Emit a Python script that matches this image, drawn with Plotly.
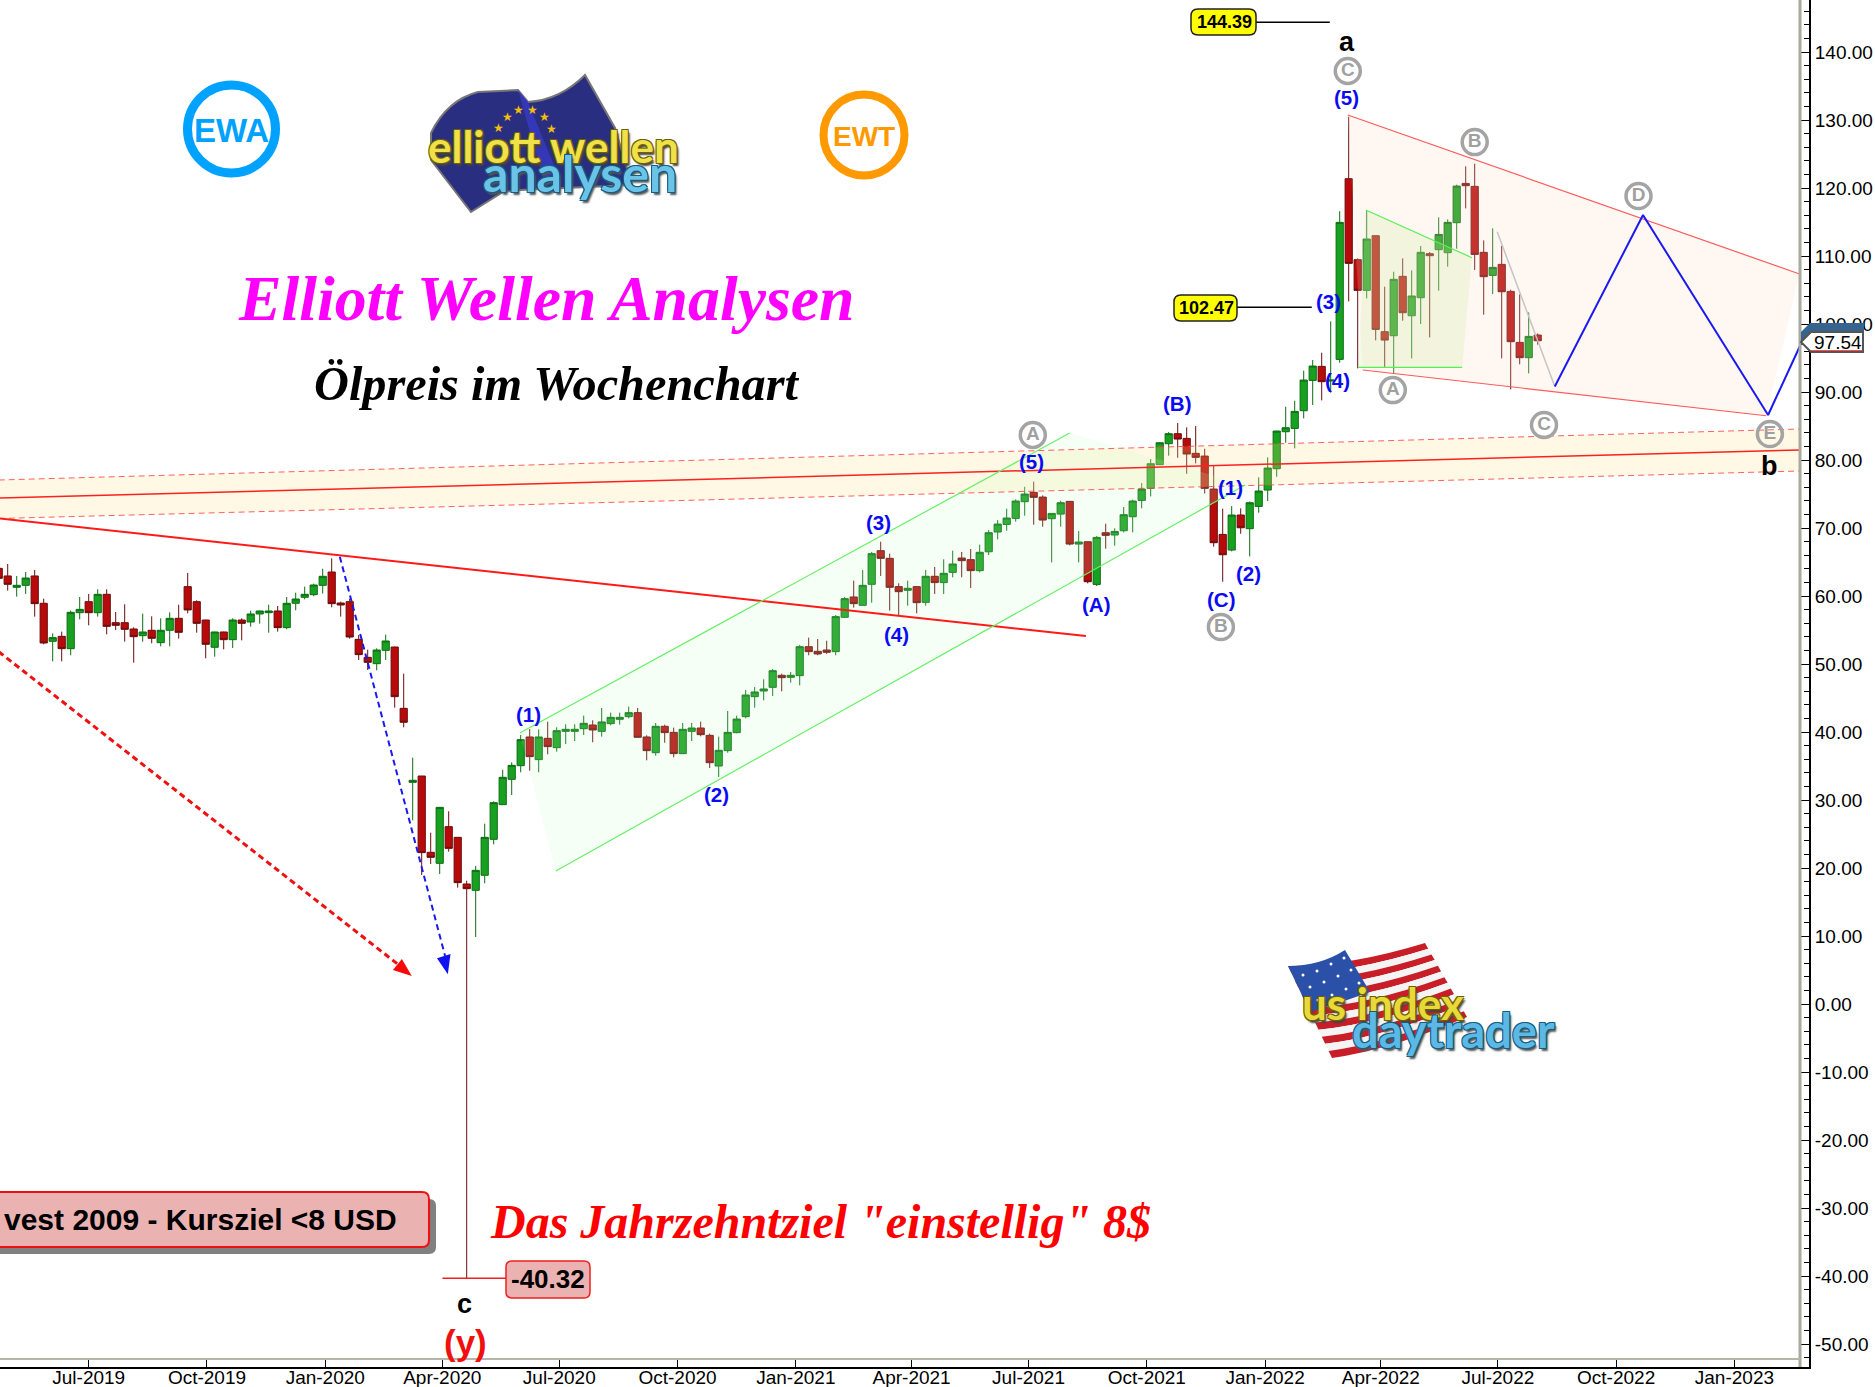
import re
import pandas as pd
import plotly.graph_objects as go

W, H = 1875, 1387
PW, PH = 1809, 1367

first_week = "2019-04-22"

opens = [64.07,62.95,61.28,61.57,62.95,58.93,53.34,54.07,52.26,57.55,59.17,57.55,60.25,56.08,56.08,55.15,54.17,54.96,53.14,54.96,
56.72,61.38,59.17,56.47,52.46,54.71,53.58,56.47,56.18,57.36,57.55,57.80,55.35,58.93,59.81,60.20,61.57,63.53,58.97,59.17,
53.63,50.98,50.05,52.01,52.50,43.48,32.60,33.53,22.31,20.69,26.08,24.51,17.65,16.72,18.93,24.22,29.32,33.04,35.05,39.27,
35.94,39.07,37.70,40.10,40.10,40.49,41.03,40.10,41.23,41.87,42.26,42.85,39.27,36.96,40.84,39.95,36.82,40.10,40.59,39.51,
35.00,37.26,39.91,42.26,45.20,46.03,46.57,48.34,48.04,48.29,52.55,51.87,52.06,51.82,56.87,59.86,58.63,61.72,66.67,65.54,
61.38,60.84,61.38,59.07,62.90,61.97,63.48,65.59,65.35,63.73,66.51,69.41,70.53,71.42,73.87,75.24,74.55,71.37,72.05,73.92,
67.64,67.98,61.71,69.31,68.97,69.60,71.66,74.06,75.83,79.31,82.40,83.87,83.18,80.98,80.58,75.73,69.06,66.76,71.91,69.90,
73.18,75.58,78.72,84.16,84.65,87.25,91.71,93.77,91.61,94.80,121.37,109.46,104.95,112.99,98.87,98.28,107.01,101.22,103.87,110.34,
110.93,110.49,114.90,120.68,120.24,110.54,107.15,108.77,104.80,97.30,95.05,98.38]
closes = [62.60,61.72,61.57,62.65,58.88,53.09,53.88,52.26,57.60,58.04,57.55,60.25,55.54,55.69,55.10,54.02,54.71,53.78,54.96,56.72,
54.66,57.95,55.98,52.90,54.71,53.58,56.47,55.98,57.36,57.80,57.80,55.35,58.93,59.56,60.25,61.62,62.90,58.88,58.68,53.97,
51.38,50.25,52.06,53.39,45.20,41.43,32.90,22.26,21.57,28.92,22.89,17.85,16.96,19.66,24.51,29.61,33.34,35.10,38.88,36.38,
39.27,37.85,40.20,40.40,40.40,41.28,40.30,41.48,42.16,42.16,42.85,39.22,37.26,40.84,39.91,36.82,40.40,40.59,39.61,35.49,
37.31,39.95,41.91,45.44,45.89,46.33,49.02,47.99,48.34,52.55,51.82,51.48,51.72,56.97,59.61,58.88,61.57,66.23,65.54,61.28,
60.64,61.13,59.02,62.90,61.97,63.34,64.71,65.20,63.73,66.43,69.31,70.58,71.47,73.97,75.00,74.51,71.17,72.15,73.72,67.64,
67.94,62.10,68.62,68.92,69.50,71.96,73.97,75.73,79.46,82.54,83.87,83.08,80.88,80.39,75.83,67.84,66.07,71.91,70.04,73.72,
75.44,78.82,84.26,84.75,87.15,91.76,93.82,91.52,91.76,114.95,108.92,104.95,112.50,99.21,97.64,106.57,101.66,104.12,110.54,110.05,
113.18,114.95,120.29,120.34,110.24,106.96,108.33,104.75,97.40,95.05,98.18,97.54]
highs = [64.20,64.71,62.95,63.53,63.83,59.61,54.51,54.76,57.85,59.86,60.30,60.99,60.99,57.65,58.78,55.40,57.41,57.01,56.72,57.60,
58.73,63.39,59.37,56.52,54.76,54.76,56.72,56.72,57.85,57.85,58.73,58.53,59.86,60.49,61.38,61.82,64.02,65.54,59.17,59.61,
54.27,52.11,52.31,54.32,52.55,48.58,36.23,33.53,25.20,28.92,28.34,24.51,18.14,20.30,26.52,29.81,34.46,35.54,39.56,40.44,
40.40,41.52,40.69,41.13,41.13,42.41,41.72,43.53,42.85,42.85,43.73,43.53,39.51,41.33,41.08,40.64,41.33,41.33,41.52,39.76,
39.32,43.09,42.41,46.18,46.62,47.75,49.27,48.58,48.83,52.80,53.88,53.68,53.43,57.21,59.86,62.26,63.83,66.48,67.99,66.23,
61.87,62.26,61.38,63.83,64.27,65.40,66.67,66.48,66.92,67.55,69.70,71.17,72.84,74.21,76.07,76.81,74.80,72.15,74.01,73.97,
69.55,68.03,68.82,70.63,69.95,73.08,74.16,76.61,80.14,82.59,84.11,85.44,84.80,85.00,81.66,79.26,72.84,73.23,72.89,73.92,
77.45,80.39,84.31,87.84,88.72,93.14,94.70,95.78,100.39,116.57,130.49,109.65,116.66,113.00,105.49,107.69,109.65,107.89,111.47,110.59,
115.68,115.39,120.49,123.18,123.58,112.30,114.07,111.47,105.05,104.36,101.71,98.62]
lows = [62.30,60.79,59.91,60.30,56.97,52.90,50.40,50.40,51.28,56.57,55.69,56.97,54.37,55.00,53.29,50.20,53.29,53.04,52.60,52.60,
53.73,57.46,54.61,50.84,51.08,52.16,52.36,53.48,55.49,55.94,54.61,54.76,55.10,57.90,59.51,59.96,60.35,58.34,56.97,53.73,
50.59,49.12,49.07,50.59,43.58,40.69,27.01,18.98,20.59,19.12,22.40,17.11,-40.32,9.86,17.75,23.48,29.27,30.74,34.07,34.32,
34.07,36.72,37.11,38.24,38.68,39.56,38.49,39.32,40.98,41.08,42.01,39.22,35.84,36.52,38.43,36.28,36.77,38.68,39.37,34.71,
33.39,36.96,39.81,42.01,43.58,44.66,45.30,45.98,47.26,46.87,51.28,51.28,51.48,51.28,56.77,58.29,58.58,59.02,62.95,57.85,
57.16,58.58,57.46,58.58,60.30,60.30,62.75,62.75,61.18,63.48,66.03,68.33,69.60,70.93,71.81,70.49,70.19,64.95,70.19,67.45,
64.95,61.86,61.47,66.96,67.40,69.36,69.36,72.89,74.65,79.31,80.63,80.34,77.98,79.50,75.09,67.25,62.10,66.56,69.16,65.83,
72.25,73.97,77.54,82.54,81.71,86.12,88.09,88.77,89.90,94.31,103.33,93.48,103.77,97.60,93.67,92.65,100.49,94.95,100.00,98.04,
104.90,108.43,111.08,117.01,107.94,101.37,104.41,94.95,90.39,94.07,92.74,96.96]

y_ticks = list(range(-50, 150, 10))
y_minor = [v for v in range(-52, 148, 2) if v % 10 != 0]
x_tick_dates = ["2019-07-01","2019-10-01","2020-01-01","2020-04-01","2020-07-01","2020-10-01","2021-01-01",
                "2021-04-01","2021-07-01","2021-10-01","2022-01-01","2022-04-01","2022-07-01","2022-10-01","2023-01-01"]
x_tick_text = ["Jul-2019","Oct-2019","Jan-2020","Apr-2020","Jul-2020","Oct-2020","Jan-2021",
               "Apr-2021","Jul-2021","Oct-2021","Jan-2022","Apr-2022","Jul-2022","Oct-2022","Jan-2023"]

# overlays: (week number from first_week, price)
trend_main = [(-2, 71.69), (120.8, 54.12)]
band_top = [(0, 77.06), (200.1, 84.56)]
band_mid = [(0, 74.41), (200.1, 81.47)]
band_bot = [(0, 71.40), (200.1, 78.38)]
chan_top = [(57.9, 39.85), (119.0, 83.97)]
chan_bot = [(61.9, 19.56), (138.5, 76.32)]
tri_top = [(149.9, 130.74), (200.1, 107.35)]
tri_bot = [(151.56, 93.24), (196.4, 86.51)]
mini_top = [(151.9, 116.76), (163.7, 109.75)]
mini_bot = [(151.07, 93.63), (162.6, 93.63)]
gray_leg = [(166.5, 113.57), (172.9, 90.8)]
blue_path = [(172.9, 90.8), (182.7, 116.03), (196.6, 86.62), (200.1, 96.66)]
blue_dash = [(37.9, 65.78), (49.6, 7.06)]
red_dash = [(0, 51.81), (44.3, 5.9)]
blue_head = [(48.7, 6.72), (50.2, 7.35), (49.9, 4.37)]
red_head = [(43.8, 5.0), (44.8, 6.62), (45.9, 4.12)]
ptr_144 = [(139.7, 144.39), (147.9, 144.39)]
ptr_102 = [(137.6, 102.47), (145.9, 102.47)]
ptr_40 = [(49.3, -40.32), (56.4, -40.32)]

blue_labels = [("(1)",58.9,42.65),("(2)",79.7,30.88),("(3)",97.8,70.74),("(4)",99.8,54.41),("(5)",114.8,79.71),
               ("(A)",121.9,58.82),("(B)",130.9,88.38),("(C)",135.8,59.56),("(1)",136.9,76.03),("(2)",138.9,63.24),
               ("(3)",147.7,103.38),("(4)",148.8,91.76),("(5)",149.8,133.38)]
gray_labels = [("A",114.9,83.68),("B",135.8,55.44),("C",149.9,137.21),("A",154.9,90.29),("B",164.0,126.76),
               ("C",171.7,85.15),("D",182.2,118.82),("E",196.8,83.82)]
black_labels = [("a",149.8,141.47),("b",196.7,79.12),("c",51.8,-44.12)]

start = pd.Timestamp(first_week)
def wk(i):
    return start + pd.Timedelta(days=7 * i)
def xs(pts): return [wk(p[0]) for p in pts]
def ys(pts): return [p[1] for p in pts]

dates = [wk(i) for i in range(len(opens))]
fig = go.Figure()
fig.add_trace(go.Candlestick(x=dates, open=opens, high=highs, low=lows, close=closes,
    increasing=dict(fillcolor="#18A020", line=dict(color="#0B6E12", width=1)),
    decreasing=dict(fillcolor="#B80A0A", line=dict(color="#6A0C0C", width=1)),
    whiskerwidth=0, hoverinfo="skip", showlegend=False))

def line(pts, color, width=1, dash="solid"):
    fig.add_trace(go.Scatter(x=xs(pts), y=ys(pts), mode="lines", hoverinfo="skip", showlegend=False,
                             line=dict(color=color, width=width, dash=dash)))
def area(pts, color):
    fig.add_trace(go.Scatter(x=xs(pts), y=ys(pts), mode="lines", fill="toself", fillcolor=color, hoverinfo="skip",
                             showlegend=False, line=dict(width=0)))

area(band_top + band_bot[::-1], "rgba(255,225,130,0.22)")
area([chan_top[0], chan_top[1], chan_bot[1], chan_bot[0]], "rgba(190,255,190,0.16)")
area([tri_top[0], tri_top[1], tri_bot[1], tri_bot[0]], "rgba(255,215,190,0.20)")
area([mini_top[0], mini_top[1], mini_bot[1], mini_bot[0]], "rgba(190,235,140,0.20)")

line(band_top, "rgba(255,70,70,0.85)", 1, "6px,4px")
line(band_bot, "rgba(255,70,70,0.85)", 1, "6px,4px")
line(band_mid, "#FF2020", 1.5)
line(trend_main, "#FF1A1A", 2)
line(chan_top, "#66F066", 1.2)
line(chan_bot, "#66F066", 1.2)
line(tri_top, "#FF5A5A", 1.2)
line(tri_bot, "#FF5A5A", 1.2)
line(mini_top, "#55F055", 1.2)
line(mini_bot, "#55F055", 1.2)
line(gray_leg, "#C4C4C4", 1.5)
line(blue_path, "#1A1AF0", 2)
line(blue_dash, "#1A1AF0", 2, "6px,4px")
line(red_dash, "#F01010", 3, "6px,4px")
area(blue_head, "#1010F0")
area(red_head, "#F80808")
line(ptr_144, "#000000", 1.5)
line(ptr_102, "#000000", 1.5)
line(ptr_40, "#F02020", 1.5)

fig.add_trace(go.Scatter(x=[wk(l[1]) for l in gray_labels], y=[l[2] for l in gray_labels], text=[l[0] for l in gray_labels],
    mode="markers+text", textposition="middle center", hoverinfo="skip", showlegend=False,
    textfont=dict(family="Liberation Sans", size=19, color="#A0A0A0", weight="bold"),
    marker=dict(size=25, color="rgba(255,255,255,0)", line=dict(color="#A4A4A4", width=3.5))))

def px(x): return x / PW
def py(y): return 1 - y / PH

ann = []
def note(text, x, y, size, color, family="Liberation Sans", bold=True, italic=False, anchor="center", shadow=None, ref="paper"):
    f = dict(family=family, size=size, color=color, weight="bold" if bold else "normal", style="italic" if italic else "normal")
    if shadow: f["shadow"] = shadow
    if ref == "paper":
        ann.append(dict(text=text, x=px(x), y=py(y), xref="paper", yref="paper", showarrow=False, xanchor=anchor, yanchor="middle", font=f))
    else:
        ann.append(dict(text=text, x=wk(x), y=y, xref="x", yref="y", showarrow=False, xanchor=anchor, yanchor="middle", font=f))

for t, x, y in blue_labels: note(t, x, y, 20.5, "#0A0AF5", ref="data")
for t, x, y in black_labels: note(t, x, y, 27, "#000000", ref="data")
note("(y)", 51.9, -49.71, 35, "#F01010", ref="data")

note("Elliott Wellen Analysen", 546, 299, 63.8, "#FF00FF", family="Liberation Serif", italic=True)
note("Ölpreis im Wochenchart", 556, 383, 48.3, "#000000", family="Liberation Serif", italic=True)
note("Das Jahrzehntziel \"einstellig\" 8$", 820, 1221, 48, "#FF0000", family="Liberation Serif", italic=True)

shapes = []
def tr(path):
    return re.sub(r"(-?\d+\.?\d*),(-?\d+\.?\d*)", lambda m: f"{px(float(m[1])):.5f},{py(float(m[2])):.5f}", path)
def shp(path, fill, lc=None, lw=0):
    shapes.append(dict(type="path", xref="paper", yref="paper", path=tr(path), fillcolor=fill, layer="above",
                       line=dict(color=lc or "rgba(0,0,0,0)", width=lw)))
def rrect(x0, y0, x1, y1, r):
    return (f"M{x0+r},{y0} L{x1-r},{y0} Q{x1},{y0} {x1},{y0+r} L{x1},{y1-r} Q{x1},{y1} {x1-r},{y1} "
            f"L{x0+r},{y1} Q{x0},{y1} {x0},{y1-r} L{x0},{y0+r} Q{x0},{y0} {x0+r},{y0} Z")
def ring(cx, cy, r, color, w):
    shapes.append(dict(type="circle", xref="paper", yref="paper", x0=px(cx-r), x1=px(cx+r), y0=py(cy+r), y1=py(cy-r),
                       layer="above", line=dict(color=color, width=w), fillcolor="rgba(0,0,0,0)"))

# axis inner border
shapes.append(dict(type="line", xref="paper", yref="paper", x0=px(1800), x1=px(1800), y0=py(PH), y1=1, layer="above", line=dict(color="#A9A99F", width=3)))
shapes.append(dict(type="line", xref="paper", yref="paper", x0=0, x1=px(1800), y0=py(1359), y1=py(1359), layer="above", line=dict(color="#B5B5A8", width=2)))

# value tags
shp(rrect(1191, 9, 1256, 35, 7), "#FFFF00", "#222222", 1.5)
note("144.39", 1224, 22, 18, "#000000")
shp(rrect(1174, 295, 1237, 321, 7), "#FFFF00", "#222222", 1.5)
note("102.47", 1206, 308, 18, "#000000")
shp(rrect(506, 1261, 590, 1298, 6), "#EBB2B2", "#F02020", 1.5)
note("-40.32", 548, 1279, 26, "#000000")
shp(rrect(-20, 1199, 436, 1254, 7), "#808080")
shp(rrect(-20, 1192, 429, 1247, 7), "#EBB2B2", "#F01010", 2)
note("vest 2009 - Kursziel &lt;8 USD", 399, 1219, 30, "#000000", anchor="right")

# price tag
shp("M1801,332 L1810,323 L1864,323 L1864,345 L1801,345 Z", "#35648F")
shp("M1801,342 L1811,332 L1863,332 L1863,352 L1811,352 Z", "#FFFFFF", "#555555", 2)
shapes.append(dict(type="line", xref="paper", yref="paper", x0=px(1811), x1=px(1862), y0=py(351), y1=py(351), layer="above", line=dict(color="#B03030", width=1.5)))
note("97.54", 1838, 342, 19, "#000000", bold=False)

# logos
ring(231.5, 129, 44, "#00A2FF", 9)
note("EWA", 231.5, 130, 33, "#00A2FF")
ring(864, 135, 40.5, "#FF9900", 8)
note("EWT", 864, 136, 28, "#FF9900")

shp("M431,133 Q447,100 478,92 L518,90 L528,102 Q560,100 585,75 L615,128 L632,185 L520,190 L503,192 L471,212 L431,160 Z", "#2A2E80", "#777777", 2)
shp("M518,90 L528,102 L560,180 L545,185 Z", "#3438B8")
for sx, sy in [(518,110),(532,110),(544,117),(551,129),(507,117),(498,128)]:
    note("★", sx, sy, 12, "#F2BE10", family="DejaVu Sans", bold=False)
yshadow = "-1px -1px 0 #6E6200, 1px -1px 0 #6E6200, -1px 1px 0 #6E6200, 1px 1px 0 #6E6200, 2px 3px 2px #444"
bshadow = "-1px -1px 0 #145F82, 1px -1px 0 #145F82, -1px 1px 0 #145F82, 1px 1px 0 #145F82, 2px 3px 2px #555"
note("elliott wellen", 553, 146, 44, "#F0E04A", family="Lato", shadow=yshadow)
note("analysen", 580, 173, 50, "#6CC3E8", family="Lato", shadow=bshadow)

# us flag
L0, L1, R0, R1 = (1288, 966), (1332, 1058), (1425, 943), (1467, 1017)
def mix(a, b, t): return (a[0] + (b[0]-a[0])*t, a[1] + (b[1]-a[1])*t)
def stripe(t0, t1, color):
    a0, b0, a1, b1 = mix(L0, L1, t0), mix(R0, R1, t0), mix(L0, L1, t1), mix(R0, R1, t1)
    c0 = ((a0[0]+b0[0])/2 - 8, (a0[1]+b0[1])/2 + 12); c1 = ((a1[0]+b1[0])/2 - 8, (a1[1]+b1[1])/2 + 12)
    shp(f"M{a0[0]:.1f},{a0[1]:.1f} Q{c0[0]:.1f},{c0[1]:.1f} {b0[0]:.1f},{b0[1]:.1f} L{b1[0]:.1f},{b1[1]:.1f} "
        f"Q{c1[0]:.1f},{c1[1]:.1f} {a1[0]:.1f},{a1[1]:.1f} Z", color)
for s in range(13):
    stripe(s/13, (s+1)/13, "#C81E28" if s % 2 == 0 else "#F4F4F4")
shp("M1288,966 Q1320,966 1345,950 L1370,992 Q1340,1003 1310,1012 Z", "#2A50A8")
for sx, sy in [(1303,975),(1317,971),(1331,964),(1344,958),(1310,987),(1324,982),(1338,976),(1351,970),(1318,1000),(1332,995),(1346,989),(1359,983)]:
    shapes.append(dict(type="circle", xref="paper", yref="paper", x0=px(sx-1.5), x1=px(sx+1.5), y0=py(sy+1.5), y1=py(sy-1.5),
                       layer="above", line=dict(width=0), fillcolor="#FFFFFF"))
note("us index", 1383, 1003, 44, "#E8D83A", family="Lato", shadow=yshadow)
note("daytrader", 1453, 1030, 47, "#5CB8E4", family="Lato", shadow=bshadow)

fig.update_layout(
    width=W, height=H, margin=dict(l=0, r=W-PW, t=0, b=H-PH, autoexpand=False), paper_bgcolor="#FFFFFF", plot_bgcolor="#FFFFFF",
    showlegend=False, boxgap=0.2, boxgroupgap=0, hovermode=False, annotations=ann, shapes=shapes,
    font=dict(family="Liberation Sans", size=19, color="#000000"),
    xaxis=dict(type="date", range=[wk(1.3/9), wk((PW+1.3)/9)], rangeslider=dict(visible=False), showgrid=False, zeroline=False,
               tickmode="array", tickvals=x_tick_dates, ticktext=x_tick_text, ticks="inside", ticklen=8, tickcolor="#000000",
               showline=True, linecolor="#000000", linewidth=2, tickfont=dict(size=19), ticklabelstandoff=-8, automargin=False),
    yaxis=dict(side="right", range=[-53.38, 147.65], showgrid=False, zeroline=False, tickmode="array", tickvals=y_ticks,
               ticktext=[f"{v:.2f}" for v in y_ticks], ticks="inside", ticklen=9, tickcolor="#000000",
               minor=dict(tickmode="array", tickvals=y_minor, ticks="inside", ticklen=5, tickcolor="#000000"),
               showline=True, linecolor="#000000", linewidth=2, tickfont=dict(size=19), automargin=False),
)
fig.write_html("out.html", config={"displayModeBar": False},
               post_script="document.body.style.margin='0';document.body.style.overflow='hidden';")
